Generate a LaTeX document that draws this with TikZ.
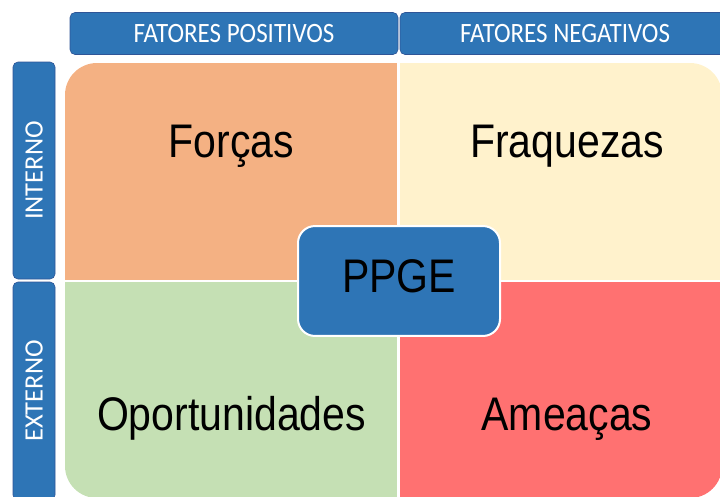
\documentclass[tikz,border=0pt]{standalone}
\usepackage{fontspec}
\setmainfont{Liberation Sans}
\newfontfamily\hdrfont{Carlito}
\usetikzlibrary{positioning}
\definecolor{swotblue}{RGB}{46,117,182}
\definecolor{swotedge}{RGB}{47,85,151}
\definecolor{forcafill}{RGB}{244,177,131}
\definecolor{fraqfill}{RGB}{255,242,204}
\definecolor{oportfill}{RGB}{197,224,180}
\definecolor{ameafill}{RGB}{255,113,113}

\begin{document}
\begin{tikzpicture}[x=1pt, y=-1pt,
    header/.style={draw=swotedge, line width=0.6pt, fill=swotblue, rounded corners=5pt, inner sep=0pt,
      text=white, font=\hdrfont\fontsize{25}{25}\selectfont},
    topbox/.style={header, yscale=1.12, minimum height=37.5pt},
    sidebox/.style={header, rotate=90, minimum height=42pt, font=\hdrfont\fontsize{26.5}{26.5}\selectfont},
    quad/.style={inner sep=0pt, outer sep=0pt},
    bigtext/.style={anchor=base, inner sep=0pt, yscale=1.15, font=\fontsize{41}{41}\selectfont}]
  \useasboundingbox (0,0) rectangle (720,496);
  \clip (0,0) rectangle (720,496);

  % cabecalhos
  \node[topbox, minimum width=328pt] (positivos) at (234,33.5) {FATORES POSITIVOS};
  \node[topbox, minimum width=330pt] (negativos) at (565,33.5) {FATORES NEGATIVOS};
  \node[sidebox, minimum width=217pt] (interno) at (34,170.5) {INTERNO};
  \node[sidebox, minimum width=218pt] (externo) at (34,391) {EXTERNO};

  % quadrantes
  \begin{scope}
    \clip[rounded corners=32pt] (65,63) rectangle (722,498);
    \node[quad, fill=forcafill, minimum width=332pt, minimum height=217pt] (forcas) at (231,171.5) {};
    \node[quad, fill=fraqfill, minimum width=322pt, minimum height=217pt] (fraquezas) at (561,171.5) {};
    \node[quad, fill=oportfill, minimum width=332pt, minimum height=216pt] (oportunidades) at (231,390) {};
    \node[quad, fill=ameafill, minimum width=322pt, minimum height=216pt] (ameacas) at (561,390) {};
  \end{scope}

  \node[bigtext] (forcastxt) at (231.5,157) {Forças};
  \node[bigtext] (fraqtxt) at (567,157) {Fraquezas};
  \node[bigtext] (oporttxt) at (231.5,430) {Oportunidades};
  \node[bigtext] (ameatxt) at (567,430) {Ameaças};

  \node[draw=white, line width=2pt, fill=swotblue, rounded corners=17pt, yscale=1.15,
    minimum width=202pt, minimum height=95.6pt, text depth=8pt,
    font=\fontsize{41}{41}\selectfont] (ppge) at (399,281) {PPGE};
\end{tikzpicture}
\end{document}
